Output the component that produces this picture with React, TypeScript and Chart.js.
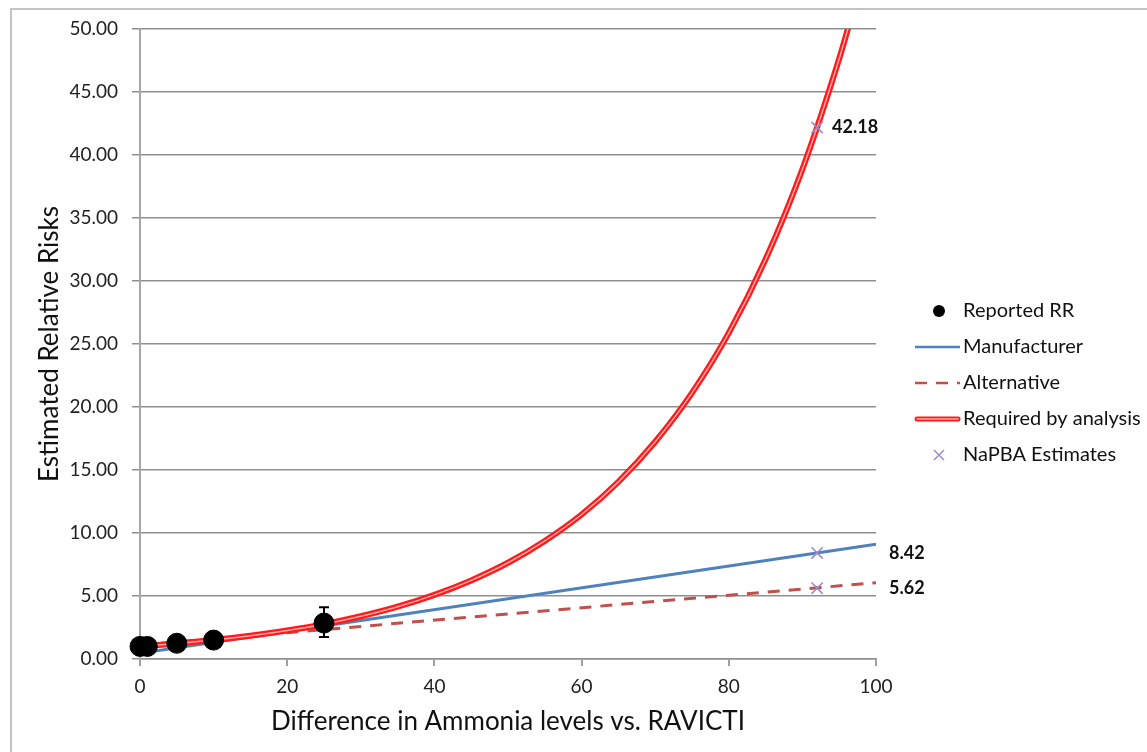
import React, { useEffect, useRef } from "react";
import { Chart, registerables } from "chart.js";

Chart.register(...registerables);

const FONT = "Lato, 'Open Sans', sans-serif";

// Reported relative risks (black dots) with a confidence interval on the last one
const rrX = [0, 1, 5, 10, 25];
const rrY = [1.0, 1.0, 1.25, 1.5, 2.85];
const rrLow: (number | null)[] = [null, null, null, null, 1.75];
const rrHigh: (number | null)[] = [null, null, null, null, 4.1];

// Manufacturer (straight line)
const manufacturerX = [0, 100];
const manufacturerY = [0.45, 9.1];

// Alternative (dashed straight line)
const alternativeX = [0, 100];
const alternativeY = [1.1, 6.05];

// Required by analysis (curve)
const requiredX = [0, 5, 10, 15, 20, 25, 30, 35, 40, 45, 50, 55, 60, 65, 70, 75, 80, 85, 90, 95, 97];
const requiredY = [1.0, 1.23, 1.5, 1.84, 2.26, 2.76, 3.39, 4.15, 5.09, 6.24, 7.64, 9.37, 11.47, 14.06, 17.24, 21.12, 25.88, 31.72, 38.87, 47.64, 51.7];

// NaPBA estimates (crosses with value labels)
const napbaX = [92, 92, 92];
const napbaY = [42.18, 8.42, 5.62];

// Axis ticks
const xTicks = [0, 20, 40, 60, 80, 100];
const yTicks = [0, 5, 10, 15, 20, 25, 30, 35, 40, 45, 50];

const legendLabels = ["Reported RR", "Manufacturer", "Alternative", "Required by analysis", "NaPBA Estimates"];

const BLUE = "#4f81bd";
const DASHRED = "#c0504d";
const RED = "#ff1a1a";
const PINK = "#ffa8a8";
const PURPLE = "#9a8cce";

const zip = (xs: number[], ys: number[]) => xs.map((x, i) => ({ x, y: ys[i] }));

const borderPlugin = {
  id: "outerBorder",
  beforeDraw(chart: any) {
    const ctx = chart.ctx;
    ctx.save();
    ctx.fillStyle = "#ffffff";
    ctx.fillRect(0, 0, chart.width, chart.height);
    ctx.strokeStyle = "#c4c4c4";
    ctx.lineWidth = 2;
    ctx.strokeRect(11, 9, chart.width + 20, chart.height + 20);
    ctx.restore();
  },
};

const errorBarPlugin = {
  id: "errorBars",
  afterDatasetsDraw(chart: any) {
    const ctx = chart.ctx;
    const xs = chart.scales.x;
    const ys = chart.scales.y;
    ctx.save();
    ctx.strokeStyle = "#000";
    ctx.lineWidth = 2;
    rrX.forEach((xv, i) => {
      const lo = rrLow[i];
      const hi = rrHigh[i];
      if (lo == null || hi == null) return;
      const px = xs.getPixelForValue(xv);
      const pLo = ys.getPixelForValue(lo);
      const pHi = ys.getPixelForValue(hi);
      ctx.beginPath();
      ctx.moveTo(px, pLo);
      ctx.lineTo(px, pHi);
      ctx.moveTo(px - 5, pLo);
      ctx.lineTo(px + 5, pLo);
      ctx.moveTo(px - 5, pHi);
      ctx.lineTo(px + 5, pHi);
      ctx.stroke();
    });
    ctx.restore();
  },
};

const labelPlugin = {
  id: "valueLabels",
  afterDatasetsDraw(chart: any) {
    const ctx = chart.ctx;
    const xs = chart.scales.x;
    const ys = chart.scales.y;
    ctx.save();
    ctx.font = `bold 18px ${FONT}`;
    ctx.fillStyle = "#111";
    ctx.textAlign = "left";
    ctx.textBaseline = "middle";
    napbaY.forEach((v, i) => {
      const py = ys.getPixelForValue(v);
      const px = i === 0 ? xs.getPixelForValue(napbaX[i]) + 15 : chart.chartArea.right + 13;
      ctx.fillText(v.toFixed(2), px, py);
    });
    ctx.restore();
  },
};

const legendPlugin = {
  id: "sideLegend",
  afterDraw(chart: any) {
    const ctx = chart.ctx;
    const x0 = 915;
    const x1 = 960;
    const cx = 939;
    const textX = 963;
    const rows = [311, 347, 383, 419, 455];
    ctx.save();
    ctx.font = `20px ${FONT}`;
    ctx.fillStyle = "#111";
    ctx.textAlign = "left";
    ctx.textBaseline = "middle";
    rows.forEach((y, i) => {
      ctx.save();
      if (i === 0) {
        ctx.fillStyle = "#000";
        ctx.beginPath();
        ctx.arc(cx, y, 6, 0, Math.PI * 2);
        ctx.fill();
      } else if (i === 1) {
        ctx.strokeStyle = BLUE;
        ctx.lineWidth = 2.5;
        ctx.beginPath();
        ctx.moveTo(x0, y);
        ctx.lineTo(x1, y);
        ctx.stroke();
      } else if (i === 2) {
        ctx.strokeStyle = DASHRED;
        ctx.lineWidth = 2.5;
        ctx.setLineDash([12, 9]);
        ctx.beginPath();
        ctx.moveTo(x0, y);
        ctx.lineTo(x1, y);
        ctx.stroke();
      } else if (i === 3) {
        ctx.strokeStyle = RED;
        ctx.lineWidth = 5;
        ctx.lineCap = "round";
        ctx.beginPath();
        ctx.moveTo(x0 + 2, y);
        ctx.lineTo(x1 - 2, y);
        ctx.stroke();
        ctx.strokeStyle = PINK;
        ctx.lineWidth = 1.5;
        ctx.beginPath();
        ctx.moveTo(x0 + 2, y);
        ctx.lineTo(x1 - 2, y);
        ctx.stroke();
      } else {
        ctx.strokeStyle = PURPLE;
        ctx.lineWidth = 1.5;
        ctx.beginPath();
        ctx.moveTo(cx - 5, y - 5);
        ctx.lineTo(cx + 5, y + 5);
        ctx.moveTo(cx + 5, y - 5);
        ctx.lineTo(cx - 5, y + 5);
        ctx.stroke();
      }
      ctx.restore();
      ctx.fillText(legendLabels[i], textX, y);
    });
    ctx.restore();
  },
};

export default function App() {
  const ref = useRef<HTMLCanvasElement | null>(null);

  useEffect(() => {
    if (!ref.current) return;
    const chart = new Chart(ref.current, {
      type: "scatter",
      data: {
        datasets: [
          {
            label: legendLabels[0],
            data: zip(rrX, rrY),
            showLine: false,
            pointRadius: 10,
            pointHoverRadius: 10,
            pointBackgroundColor: "#000",
            pointBorderColor: "#000",
            clip: false as any,
            order: 0,
          },
          {
            label: legendLabels[4],
            data: zip(napbaX, napbaY),
            showLine: false,
            pointStyle: "crossRot",
            pointRadius: 8,
            pointBorderWidth: 1.6,
            pointBorderColor: PURPLE,
            pointBackgroundColor: PURPLE,
            order: 1,
          },
          {
            label: "required-inner",
            data: zip(requiredX, requiredY),
            showLine: true,
            borderColor: PINK,
            borderWidth: 1.5,
            pointRadius: 0,
            cubicInterpolationMode: "monotone",
            clip: 0 as any,
            order: 2,
          },
          {
            label: legendLabels[3],
            data: zip(requiredX, requiredY),
            showLine: true,
            borderColor: RED,
            borderWidth: 6,
            pointRadius: 0,
            cubicInterpolationMode: "monotone",
            clip: 0 as any,
            order: 3,
          },
          {
            label: legendLabels[1],
            data: zip(manufacturerX, manufacturerY),
            showLine: true,
            borderColor: BLUE,
            borderWidth: 3,
            pointRadius: 0,
            order: 4,
          },
          {
            label: legendLabels[2],
            data: zip(alternativeX, alternativeY),
            showLine: true,
            borderColor: DASHRED,
            borderWidth: 3,
            borderDash: [12, 9],
            pointRadius: 0,
            order: 5,
          },
        ],
      },
      options: {
        responsive: false,
        animation: false,
        events: [],
        layout: { padding: { top: 29, right: 271, left: 0, bottom: 0 } },
        plugins: {
          legend: { display: false },
          tooltip: { enabled: false },
        },
        scales: {
          x: {
            type: "linear",
            min: 0,
            max: 100,
            afterBuildTicks: (s: any) => {
              s.ticks = xTicks.map((v) => ({ value: v }));
            },
            afterFit: (s: any) => {
              s.height = 93;
            },
            grid: {
              display: true,
              drawOnChartArea: false,
              drawTicks: true,
              tickLength: 7,
              color: "#a0a0a0",
              lineWidth: 2,
            },
            border: { display: true, color: "#8f8f8f", width: 1.5 },
            ticks: {
              padding: 9,
              color: "#222",
              font: { family: FONT, size: 19 },
              callback: (v: any) => String(v),
            },
            title: {
              display: true,
              text: "Difference in Ammonia levels vs. RAVICTI",
              color: "#111",
              font: { family: FONT, size: 26 },
              padding: { top: 0, bottom: 15 },
            },
          },
          y: {
            type: "linear",
            min: 0,
            max: 50,
            afterBuildTicks: (s: any) => {
              s.ticks = yTicks.map((v) => ({ value: v }));
            },
            afterFit: (s: any) => {
              s.width = 140;
            },
            grid: {
              color: "#8f8f8f",
              lineWidth: 1.5,
              drawTicks: true,
              tickLength: 8,
            },
            border: { display: true, color: "#a6a6a6", width: 2 },
            ticks: {
              padding: 14,
              color: "#222",
              font: { family: FONT, size: 19 },
              callback: (v: any) => Number(v).toFixed(2),
            },
            title: {
              display: true,
              text: "Estimated Relative Risks",
              color: "#111",
              font: { family: FONT, size: 26 },
              padding: { top: 34, bottom: 0 },
            },
          },
        },
      } as any,
      plugins: [borderPlugin, errorBarPlugin, labelPlugin, legendPlugin],
    });
    return () => chart.destroy();
  }, []);

  return (
    <div style={{ position: "absolute", left: 0, top: 0, width: 1147, height: 752 }}>
      <canvas ref={ref} width={1147} height={752} />
    </div>
  );
}
